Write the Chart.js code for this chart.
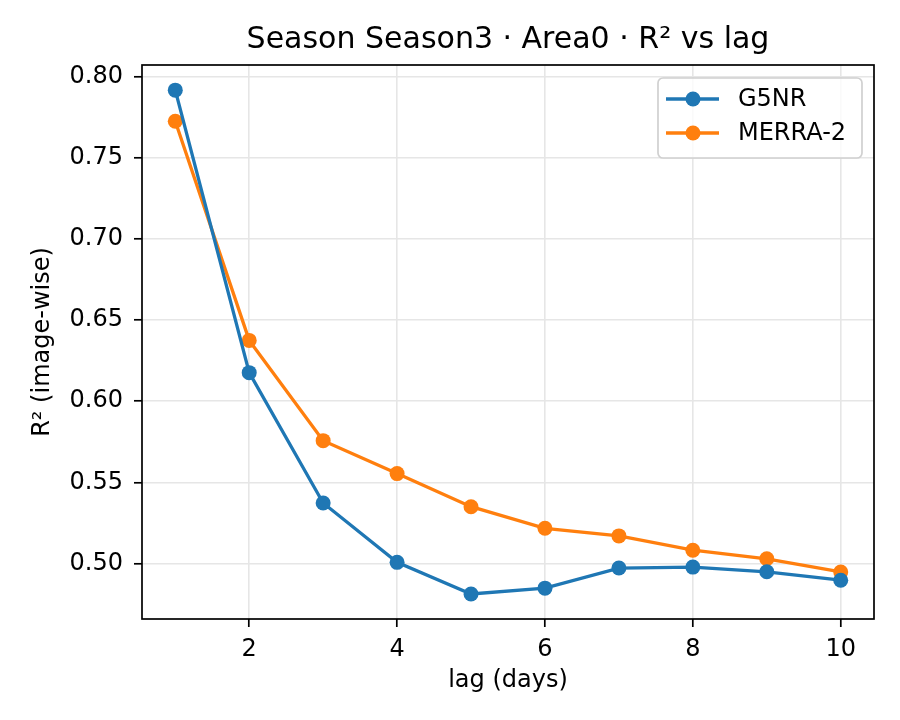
<!DOCTYPE html>
<html>
<head>
<meta charset="utf-8">
<script src="https://cdn.jsdelivr.net/npm/chart.js@4/dist/chart.umd.min.js"></script>
<style>
  html, body { margin: 0; padding: 0; background: #fff; }
</style>
</head>
<body>
<canvas id="myChart" width="900" height="720"></canvas>
<script>
var lags = [1, 2, 3, 4, 5, 6, 7, 8, 9, 10];
var g5nr = [0.7917, 0.6176, 0.5373, 0.5007, 0.4812, 0.4848, 0.4972, 0.4978, 0.4949, 0.4897];
var merra2 = [0.7725, 0.6375, 0.5757, 0.5554, 0.5350, 0.5217, 0.5170, 0.5082, 0.5029, 0.4948];
var seriesNames = ['G5NR', 'MERRA-2'];
var xTicks = [2, 4, 6, 8, 10];
var yTicks = [0.50, 0.55, 0.60, 0.65, 0.70, 0.75, 0.80];

var FONT = 'DejaVu Sans';
var blue = '#1f77b4';
var orange = '#ff7f0e';

function toPoints(ys) {
  var pts = [];
  for (var i = 0; i < lags.length; i++) {
    pts.push({ x: lags[i], y: ys[i] });
  }
  return pts;
}

// axes frame + matplotlib-ish legend box
var framePlugin = {
  id: 'frame',
  afterDraw: function (chart) {
    var ctx = chart.ctx, ca = chart.chartArea;
    ctx.save();
    ctx.strokeStyle = '#000';
    ctx.lineWidth = 1.7;
    ctx.strokeRect(ca.left, ca.top, ca.right - ca.left, ca.bottom - ca.top);

    // legend
    var w = 204, h = 80, x = ca.right - 12 - w, y = ca.top + 13, r = 5;
    ctx.beginPath();
    ctx.moveTo(x + r, y);
    ctx.arcTo(x + w, y, x + w, y + h, r);
    ctx.arcTo(x + w, y + h, x, y + h, r);
    ctx.arcTo(x, y + h, x, y, r);
    ctx.arcTo(x, y, x + w, y, r);
    ctx.closePath();
    ctx.fillStyle = 'rgba(255,255,255,0.8)';
    ctx.fill();
    ctx.strokeStyle = '#d0d0d0';
    ctx.lineWidth = 1.7;
    ctx.stroke();

    chart.data.datasets.forEach(function (ds, i) {
      var ry = y + 21 + i * 34;
      ctx.strokeStyle = ds.borderColor;
      ctx.lineWidth = 3.3;
      ctx.beginPath();
      ctx.moveTo(x + 8, ry);
      ctx.lineTo(x + 61, ry);
      ctx.stroke();
      ctx.fillStyle = ds.borderColor;
      ctx.beginPath();
      ctx.arc(x + 35, ry, 7.5, 0, Math.PI * 2);
      ctx.fill();
      ctx.fillStyle = '#000';
      ctx.font = '24px "' + FONT + '"';
      ctx.textBaseline = 'middle';
      ctx.textAlign = 'left';
      ctx.fillText(ds.label, x + 80, ry + 1);
    });
    ctx.restore();
  }
};

var ctx = document.getElementById('myChart');
var myChart = new Chart(ctx, {
  type: 'line',
  data: {
    datasets: [{
      label: seriesNames[0],
      data: toPoints(g5nr),
      borderColor: blue,
      backgroundColor: blue,
      borderWidth: 3.3,
      pointRadius: 7.5,
      pointBorderWidth: 0,
      pointBackgroundColor: blue,
      tension: 0
    }, {
      label: seriesNames[1],
      data: toPoints(merra2),
      borderColor: orange,
      backgroundColor: orange,
      borderWidth: 3.3,
      pointRadius: 7.5,
      pointBorderWidth: 0,
      pointBackgroundColor: orange,
      tension: 0
    }]
  },
  options: {
    responsive: false,
    animation: false,
    devicePixelRatio: 1,
    layout: { padding: { left: 0, right: 26, top: 0, bottom: 0 } },
    plugins: {
      legend: { display: false },
      tooltip: { enabled: false },
      title: {
        display: true,
        fullSize: false,
        text: 'Season Season3 · Area0 · R² vs lag',
        color: '#000',
        font: { family: FONT, size: 30, weight: 'normal' },
        padding: { top: 22, bottom: 7 }
      }
    },
    scales: {
      x: {
        type: 'linear',
        min: 0.55,
        max: 10.45,
        afterBuildTicks: function (s) {
          s.ticks = xTicks.map(function (v) { return { value: v }; });
        },
        afterFit: function (s) { s.height = 101; },
        ticks: {
          color: '#000',
          font: { family: FONT, size: 24 },
          padding: 8,
          maxRotation: 0,
          callback: function (v) { return String(v); }
        },
        grid: { color: '#e6e6e6', lineWidth: 1.6, tickColor: '#000', tickLength: 8, tickWidth: 1.7 },
        border: { display: false },
        title: {
          display: true,
          text: 'lag (days)',
          color: '#000',
          font: { family: FONT, size: 24 },
          padding: { top: 25, bottom: 25 }
        }
      },
      y: {
        type: 'linear',
        min: 0.4658,
        max: 0.8072,
        afterBuildTicks: function (s) {
          s.ticks = yTicks.map(function (v) { return { value: v }; });
        },
        afterFit: function (s) { s.width = 142; },
        ticks: {
          color: '#000',
          font: { family: FONT, size: 24 },
          padding: 11,
          callback: function (v) { return v.toFixed(2); }
        },
        grid: { color: '#e6e6e6', lineWidth: 1.6, tickColor: '#000', tickLength: 8, tickWidth: 1.7 },
        border: { display: false },
        title: {
          display: true,
          text: 'R² (image-wise)',
          color: '#000',
          font: { family: FONT, size: 24 },
          padding: { top: 28, bottom: 0 }
        }
      }
    }
  },
  plugins: [framePlugin]
});
</script>
</body>
</html>
